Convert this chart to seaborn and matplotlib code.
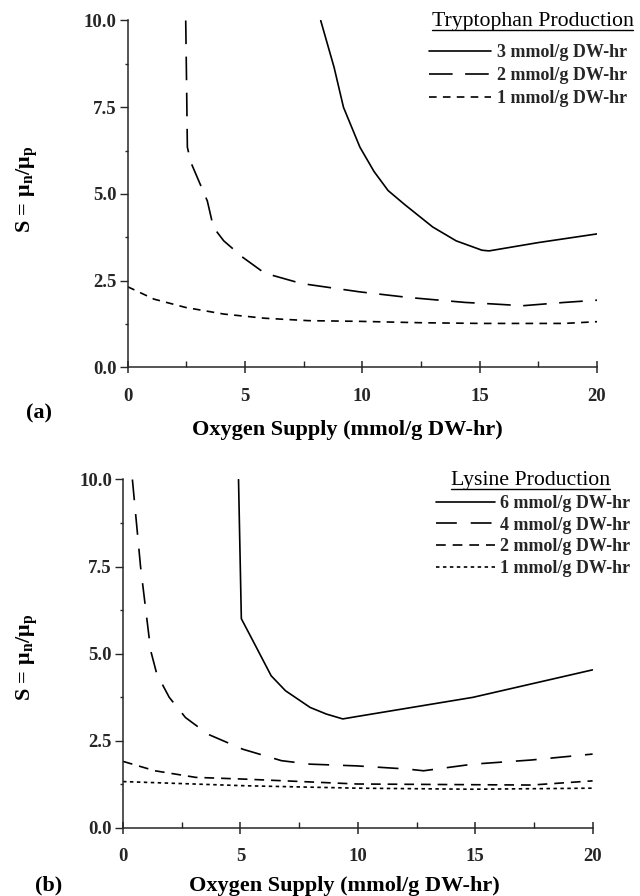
import matplotlib
matplotlib.use("Agg")
import matplotlib.pyplot as plt
import seaborn as sns
import numpy as np
from matplotlib.lines import Line2D
from matplotlib.ticker import MultipleLocator, FormatStrFormatter

# ---------------- data ----------------
x_label = "Oxygen Supply (mmol/g DW-hr)"
y_label = "S = μ$_\\mathregular{n}$/μ$_\\mathregular{p}$"

trp_title = "Tryptophan Production"
trp_labels = ["3 mmol/g DW-hr", "2 mmol/g DW-hr", "1 mmol/g DW-hr"]
trp3_x = [8.23, 8.8, 9.2, 9.9, 10.5, 11.1, 11.8, 13.0, 14.0, 15.1, 15.4, 17.5, 20.0]
trp3_y = [10.0, 8.65, 7.5, 6.35, 5.65, 5.1, 4.7, 4.05, 3.65, 3.38, 3.36, 3.6, 3.85]
trp2_x = [2.48, 2.52, 2.55, 2.7, 3.4, 3.66, 4.1, 4.92, 5.84, 7.41, 9.89, 11.94, 14.39, 15.6, 16.83, 18.6, 20.0]
trp2_y = [10.0, 8.0, 6.35, 5.91, 4.8, 4.04, 3.65, 3.17, 2.72, 2.42, 2.18, 2.02, 1.875, 1.83, 1.78, 1.875, 1.94]
trp1_x = [0.0, 1.13, 2.48, 4.1, 5.84, 7.7, 9.89, 12.5, 15.1, 18.6, 20.0]
trp1_y = [2.33, 1.97, 1.73, 1.54, 1.42, 1.35, 1.33, 1.29, 1.27, 1.27, 1.32]

lys_title = "Lysine Production"
lys_labels = ["6 mmol/g DW-hr", "4 mmol/g DW-hr", "2 mmol/g DW-hr", "1 mmol/g DW-hr"]
lys6_x = [4.92, 5.04, 5.53, 6.31, 6.92, 7.97, 8.66, 9.36, 9.88, 14.9, 20.0]
lys6_y = [10.0, 6.0, 5.37, 4.36, 3.93, 3.45, 3.26, 3.12, 3.18, 3.74, 4.53]
lys4_x = [0.4, 0.75, 1.18, 1.44, 1.97, 2.66, 3.62, 5.1, 6.75, 7.97, 9.97, 12.1, 12.8, 14.9, 17.4, 20.0]
lys4_y = [10.0, 7.48, 5.08, 4.41, 3.74, 3.16, 2.68, 2.25, 1.92, 1.82, 1.77, 1.68, 1.63, 1.82, 1.94, 2.11]
lys2_x = [0.0, 1.36, 3.1, 5.18, 6.92, 9.97, 14.9, 17.4, 20.0]
lys2_y = [1.9, 1.63, 1.44, 1.39, 1.34, 1.25, 1.23, 1.22, 1.34]
lys1_x = [0.0, 5.18, 9.97, 14.9, 20.0]
lys1_y = [1.32, 1.2, 1.13, 1.1, 1.13]

x_ticks = [0, 5, 10, 15, 20]
y_ticks = [0.0, 2.5, 5.0, 7.5, 10.0]
panel_tags = ["(a)", "(b)"]

# ---------------- style ----------------
sns.set_theme(style="ticks")
plt.rcParams["font.family"] = ["Liberation Serif", "DejaVu Serif"]
plt.rcParams["lines.scale_dashes"] = False
plt.rcParams["axes.linewidth"] = 1.1

fig = plt.figure(figsize=(6.4, 8.96), dpi=100)
W, H = 640.0, 896.0


def ax_from_px(x0, x1, ytop, ybot):
    return fig.add_axes([x0 / W, 1 - ybot / H, (x1 - x0) / W, (ybot - ytop) / H])


ax1 = ax_from_px(127.5, 597, 20.5, 367.5)
ax2 = ax_from_px(123, 592.6, 479.5, 827.5)

LW = 1.2


def draw(ax, xs, ys, label, dashes):
    sns.lineplot(x=xs, y=ys, ax=ax, color="black", linewidth=LW, label=label,
                 estimator=None, sort=False)
    ln = ax.lines[-1]
    if dashes is not None:
        ln.set_dashes(dashes)


draw(ax1, trp3_x, trp3_y, trp_labels[0], None)
draw(ax1, trp2_x, trp2_y, trp_labels[1], (17, 9))
draw(ax1, trp1_x, trp1_y, trp_labels[2], (5.5, 4.5))

draw(ax2, lys6_x, lys6_y, lys_labels[0], None)
draw(ax2, lys4_x, lys4_y, lys_labels[1], (15, 10))
draw(ax2, lys2_x, lys2_y, lys_labels[2], (7, 5))
draw(ax2, lys1_x, lys1_y, lys_labels[3], (2.5, 2.5))

for ax in (ax1, ax2):
    ax.set_xlim(0, 20)
    ax.set_ylim(0, 10)
    sns.despine(ax=ax)
    ax.set_xticks(x_ticks)
    ax.set_yticks(y_ticks)
    ax.xaxis.set_minor_locator(MultipleLocator(2.5))
    ax.yaxis.set_minor_locator(MultipleLocator(1.25))
    ax.yaxis.set_major_formatter(FormatStrFormatter("%.1f"))
    ax.tick_params(axis="x", which="major", direction="inout", length=9, width=1.1, pad=10)
    ax.tick_params(axis="x", which="minor", direction="in", length=4, width=1.0)
    ax.tick_params(axis="y", which="major", direction="out", length=6, width=1.0, pad=2)
    ax.tick_params(axis="y", which="minor", direction="out", length=2.5, width=1.0)
    for lab in ax.get_xticklabels() + ax.get_yticklabels():
        lab.set_fontfamily("Liberation Serif")
        lab.set_fontweight("bold")
        lab.set_fontsize(13.5)
    ax.set_xlabel("")
    ax.set_ylabel("")
    ax.set_facecolor("white")

# axis labels as figure text
lab_kw = dict(fontfamily="Liberation Serif", fontweight="bold", fontsize=16, color="black")
fig.text(347 / W, 1 - 430 / H, x_label, ha="center", va="center", **lab_kw)
fig.text(344 / W, 1 - 886 / H, x_label, ha="center", va="center", **lab_kw)
fig.text(28 / W, 1 - 189 / H, y_label, ha="center", va="center", rotation=90, **lab_kw)
fig.text(28 / W, 1 - 657 / H, y_label, ha="center", va="center", rotation=90, **lab_kw)
fig.text(39 / W, 1 - 413 / H, panel_tags[0], ha="center", va="center", **lab_kw)
fig.text(49 / W, 1 - 885 / H, panel_tags[1], ha="center", va="center", **lab_kw)

# legends (entries) -- titles drawn separately with underline
leg_kw = dict(frameon=False, borderpad=0, borderaxespad=0, handletextpad=0.3,
              prop=dict(family="Liberation Serif", weight="bold", size=13))
leg_specs = [
    (ax1, 429, 50.7, 0.33, 3.45, trp_title, 532.5, 21.7),
    (ax2, 436, 501.7, 0.26, 3.25, lys_title, 530.5, 480.7),
]
legs = []
for ax, lx, row0, lsp, hl, title, tx, ty in leg_specs:
    leg = ax.legend(loc="upper left", bbox_to_anchor=(lx / W, 1 - (row0 - 9) / H),
                    bbox_transform=fig.transFigure, labelspacing=lsp,
                    handlelength=hl, **leg_kw)
    legs.append(leg)

fig.canvas.draw()
renderer = fig.canvas.get_renderer()
# shift each legend so its first row sits at the measured row position
for leg, (ax, lx, row0, lsp, hl, title, tx, ty) in zip(legs, leg_specs):
    bb = leg.get_lines()[0].get_window_extent(renderer)
    cur = H - (bb.y0 + bb.y1) / 2.0
    dy = row0 - cur
    leg.set_bbox_to_anchor((lx / W, 1 - (row0 - 9 + dy) / H), transform=fig.transFigure)

title_fp = dict(fontfamily="Liberation Serif", fontsize=15.7, color="black")
titles = []
for (ax, lx, row0, lsp, hl, title, tx, ty) in leg_specs:
    titles.append(fig.text(tx / W, 1 - ty / H, title, ha="center", va="center", **title_fp))

fig.canvas.draw()
for t, (ax, lx, row0, lsp, hl, title, tx, ty) in zip(titles, leg_specs):
    bb = t.get_window_extent(renderer)
    yu = 1 - (ty + 8.5) / H
    fig.add_artist(Line2D([bb.x0 / W, bb.x1 / W], [yu, yu],
                          transform=fig.transFigure, color="black", lw=1.0))

fig.savefig("out.png", dpi=100, facecolor="white")
